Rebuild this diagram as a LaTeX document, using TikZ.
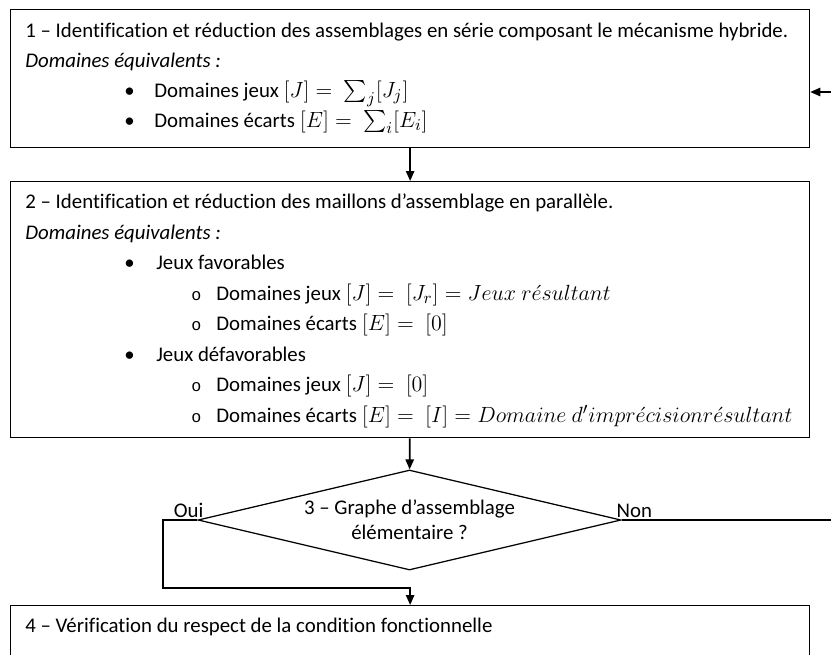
\documentclass[tikz,border=0pt]{standalone}
\usepackage{amsmath}
\usepackage{fontspec}
\setmainfont{Carlito}[Ligatures=NoCommon]
\newfontfamily\puces{Liberation Mono}
\usetikzlibrary{shapes.geometric,arrows,arrows.meta}
\tikzstyle{bloc}=[rectangle,draw=black,line width=0.75pt,minimum width=479.4pt,
inner sep=0pt,anchor=north west]
\tikzstyle{decision}=[diamond,draw=black,line width=0.75pt,aspect=4.23,
minimum width=253.8pt,minimum height=60pt,inner sep=0pt,align=center]
\tikzstyle{ligne}=[anchor=base west,inner sep=0pt]
\tikzstyle{trait}=[line width=1pt]
\tikzstyle{fleche}=[line width=1pt,-{Triangle[length=6pt,width=5pt]}]
\newcommand{\rond}{{\fontsize{10}{10}\selectfont\puces o}}
\newcommand{\formule}[1]{\scalebox{1.1}{$#1$}}

\begin{document}
\begin{tikzpicture}[x=0.6pt,y=-0.6pt,font=\fontsize{12.5}{15}\selectfont]
        \clip (0,0) rectangle (831,654);
        \node (b1) [bloc,minimum height=82.8pt] at (10,9) {};
        \node (b2) [bloc,minimum height=153.6pt] at (10,181) {};
        \node (q3) [decision] at (409.5,520) {3 – Graphe d’assemblage\\élémentaire ?};
        \node (b4) [bloc,minimum height=60pt] at (10,605) {};

        % bloc 1
        \node (t11) [ligne] at (25,37) {1 – Identification et réduction des assemblages en série composant le mécanisme hybride.};
        \node (t12) [ligne] at (25,67) {\itshape Domaines équivalents :};
        \node (p13) [ligne] at (124,97) {•};
        \node (t13) [ligne] at (154,97) {Domaines jeux \formule{[J] =\ \sum_j [J_j]}};
        \node (p14) [ligne] at (124,127) {•};
        \node (t14) [ligne] at (154,127) {Domaines écarts \formule{[E] =\ \sum_i [E_i]}};

        % bloc 2
        \node (t21) [ligne] at (25,208) {2 – Identification et réduction des maillons d’assemblage en parallèle.};
        \node (t22) [ligne] at (25,239) {\itshape Domaines équivalents :};
        \node (p23) [ligne] at (124,269) {•};
        \node (t23) [ligne] at (156,269) {Jeux favorables};
        \node (p24) [ligne] at (191,300) {\rond};
        \node (t24) [ligne] at (216,300) {Domaines jeux \formule{[J] =\ [J_r] = Jeux\ r\acute{e}sultant}};
        \node (p25) [ligne] at (191,330) {\rond};
        \node (t25) [ligne] at (216,330) {Domaines écarts \formule{[E] =\ [0]}};
        \node (p26) [ligne] at (124,361) {•};
        \node (t26) [ligne] at (156,361) {Jeux défavorables};
        \node (p27) [ligne] at (191,391) {\rond};
        \node (t27) [ligne] at (216,391) {Domaines jeux \formule{[J] =\ [0]}};
        \node (p28) [ligne] at (191,422) {\rond};
        \node (t28) [ligne] at (216,422) {Domaines écarts \formule{[E] =\ [I] = Domaine\ d'impr\acute{e}cisionr\acute{e}sultant}};

        % bloc 4
        \node (t41) [ligne] at (25,632) {4 – Vérification du respect de la condition fonctionnelle};

        \coordinate (retour) at (831,92);
        \coordinate (non) at (831,520);
        \coordinate (coude) at (163,588);

        \draw [fleche] (retour) -- (retour -| b1.east);
        \draw [fleche] (b1) -- (b2);
        \draw [fleche] (b2) -- (q3);
        \draw [trait] (q3.east) -- (non);
        \draw [fleche] (q3.west) -| (coude) -| (b4.north);
        \node (oui) [anchor=south east,inner sep=1pt] at ([xshift=4.8pt]q3.west) {Oui};
        \node (lnon) [anchor=south west,inner sep=1pt] at ([xshift=-4.2pt]q3.east) {Non};
\end{tikzpicture}
\end{document}
